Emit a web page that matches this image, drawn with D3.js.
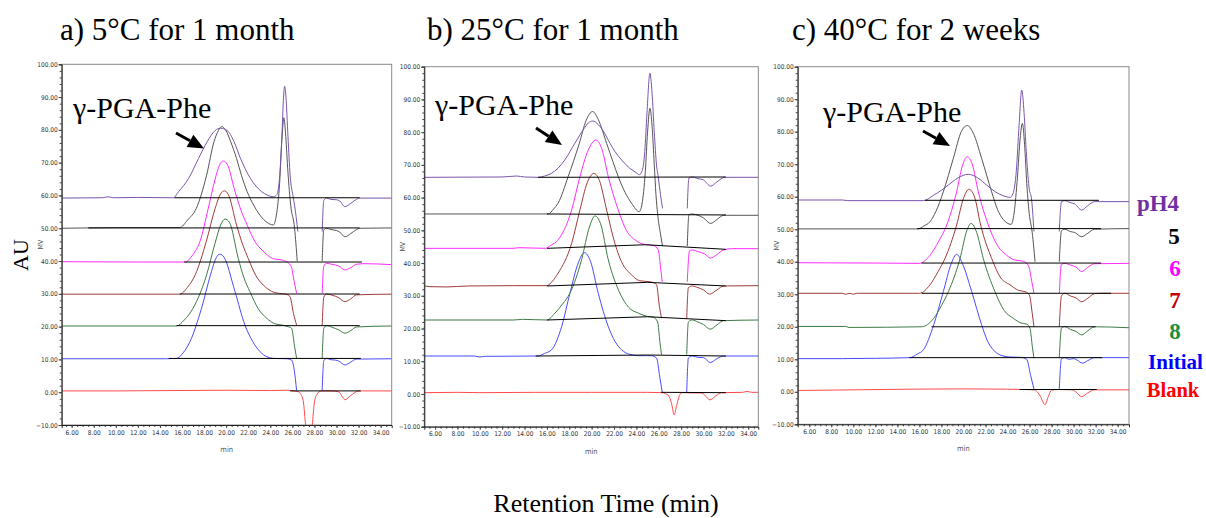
<!DOCTYPE html>
<html><head><meta charset="utf-8">
<script src="https://cdn.jsdelivr.net/npm/d3@7"></script>
<style>body{margin:0;background:#fff}svg{display:block}
.serif{font-family:"Liberation Serif","Times New Roman","DejaVu Serif",serif}
.tick text{font-family:"DejaVu Sans Condensed","DejaVu Sans",sans-serif}
</style>
</head><body><svg id="c" width="1206" height="518"></svg>
<script>
// ---------------- DATA ----------------
const panelTitles = ["a) 5°C for 1 month", "b) 25°C for 1 month", "c) 40°C for 2 weeks"];
const peakLabel = "γ-PGA-Phe";
const seriesNames = ["pH4", "5", "6", "7", "8", "Initial", "Blank"];
const xTickValues = [6, 8, 10, 12, 14, 16, 18, 20, 22, 24, 26, 28, 30, 32, 34];
const yTickValues = [-10, 0, 10, 20, 30, 40, 50, 60, 70, 80, 90, 100];
const xAxisTitle = "Retention Time (min)";
const yAxisTitle = "AU";

// Panel a) 5°C, 1 month  — [time (min), signal (mV)], null = trace gap
const a_pH4 = [[5.1,59.2],[8.8,59.3],[9.3,59.6],[9.8,59.3],[12,59.4],[15.2,59.3],[15.7,61.2],[16.6,65.2],[17.5,71.3],[18.3,76.5],[19.0,79.8],[19.5,80.5],[20.1,79.8],[20.7,76.5],[21.3,71.3],[22.2,65.2],[23.2,61.2],[23.8,60.0],[24.3,59.6],[24.6,60.3],[24.85,66],[25.05,78],[25.2,90],[25.3,93.3],[25.42,90],[25.6,78],[25.8,66],[26.05,60],[26.2,57],[26.5,49],null,[28.7,49],[28.85,58.5],[29.1,59.2],[29.5,58.8],[30.0,58.7],[30.3,58.3],[30.75,56.6],[31.3,57.6],[31.7,58.6],[32.1,59.2],[35,59.2]];
const a_5 = [[5.1,50],[7.5,50.1],[10,50.2],[15.8,50.2],[16.5,52.5],[17.3,56.1],[18.23,66.2],[18.9,76.4],[19.3,79.8],[19.6,81],[19.95,80],[20.4,76.5],[20.94,71.3],[21.4,66],[21.9,61.2],[22.5,57],[23.06,54],[23.7,51.8],[24.27,51],[24.55,54],[24.85,64],[25.05,77],[25.23,83.7],[25.4,78],[25.6,67],[25.85,57],[26.2,50],[26.44,40],null,[28.7,40],[28.85,49.5],[29.1,50],[29.5,49.6],[30.0,49.3],[30.3,48.8],[30.76,47.4],[31.3,48.4],[31.8,49.6],[32.1,50],[35,50.1]];
const a_6 = [[5.1,39.8],[12,39.7],[16.26,39.7],[17.0,42],[17.62,45.9],[18.38,56.1],[19.0,65],[19.4,69.3],[19.74,70.5],[20.1,69.5],[20.8,61.2],[21.4,55],[21.9,51],[22.6,46],[23.36,43],[24.2,40.8],[25.2,40.2],[25.6,39.5],[25.9,38.3],[26.15,34],[26.38,30.2],null,[28.7,30.2],[28.85,38.5],[29.1,39.3],[29.6,39],[30.2,38.5],[30.76,37.3],[31.3,38],[31.8,39],[32.5,39.2],[35,38.9]];
const a_7 = [[5.1,29.9],[15.8,29.9],[16.5,32],[17.2,35.8],[18.2,46],[19.0,56],[19.5,60.5],[19.83,61.4],[20.2,60.3],[20.94,51],[21.5,45],[22.0,40.8],[22.7,35.5],[23.36,32.7],[24.1,30.8],[24.87,30.1],[25.4,29.9],[25.78,29.2],[26.1,24],[26.38,20.5],null,[28.7,20.5],[28.85,29],[29.1,29.9],[29.6,29.6],[30.2,28.8],[30.76,27.6],[31.3,28.5],[31.8,29.7],[35,29.9]];
const a_8 = [[5.1,20.2],[15.5,20.2],[16.2,22],[17.0,25.6],[18.23,35.8],[19.0,45.5],[19.5,51],[19.89,52.8],[20.3,51.8],[21.1,40.8],[21.6,35],[22.15,30.7],[22.9,25.5],[23.66,22.6],[24.4,20.9],[25.2,20.4],[25.6,20.0],[25.93,19.5],[26.2,14],[26.38,10.4],null,[28.7,10.4],[28.85,19.5],[29.1,20.3],[29.6,19.8],[30.2,19],[30.76,18],[31.3,18.8],[31.8,19.9],[35,20.2]];
const a_initial = [[5.1,10.2],[14.5,10.2],[15.5,10.3],[16.1,12],[16.72,15.4],[17.77,25.6],[18.6,36],[19.1,41],[19.43,42.1],[19.8,41.2],[20.8,30.7],[21.7,20.5],[22.4,15.5],[23.06,12.4],[23.7,10.8],[24.27,10.3],[25.5,10.2],[25.93,9.8],[26.23,5.3],[26.38,0.6],null,[28.7,0.6],[28.85,9.6],[29.1,10.3],[29.5,9.9],[29.9,9.8],[30.2,9.5],[30.76,8.3],[31.3,9.2],[31.8,10.1],[35,10.2]];
const a_blank = [[5.1,0.4],[10,0.4],[15,0.5],[20,0.6],[24,0.5],[25.5,0.6],[26.1,0.4],[26.5,0.2],[26.8,-0.8],[27.0,-3],[27.2,-10],[27.5,-15],[27.8,-10],[28.0,-3],[28.2,-0.8],[28.6,0.4],[29.5,0.4],[30.2,0.1],[30.76,-2.3],[31.3,-1],[31.9,0.3],[32.2,0.4],[35,0.4]];
const a_baselines = [[[15.3,59.3],[32.1,59.3]],[[7.5,50.1],[32.1,50.1]],[[16.2,39.7],[32.3,39.7]],[[15.8,29.95],[32.1,29.95]],[[15.5,20.3],[32.1,20.3]],[[14.8,10.3],[32.2,10.3]],[[25.8,0.4],[32.2,0.4]]];

// Panel b) 25°C, 1 month
const b_pH4 = [[5.04,66.2],[12,66.3],[13.3,66.6],[14,66.3],[15.2,66.2],[15.8,66.6],[16.4,67.4],[17.0,69],[17.6,71.5],[18.5,76.6],[19.3,81],[19.7,82.8],[20.09,83.4],[20.6,82.3],[21.1,80],[21.64,76.6],[22.1,74],[22.68,71.5],[23.4,69],[24.0,67.6],[24.26,67.0],[24.5,68],[24.75,74],[24.95,86],[25.21,98],[25.4,92],[25.6,80],[25.8,70],[25.96,66.2],[26.15,61],[26.34,56.7],null,[28.55,56.7],[28.7,66],[29.0,66.3],[29.5,65.8],[30.0,65.4],[30.63,63.5],[31.2,64.8],[31.9,66.2],[34.9,66.2]];
const b_5 = [[5.04,55],[16.1,55],[16.6,56.5],[17.0,58.3],[17.9,66.4],[18.9,76.6],[19.5,83.5],[20.09,86.3],[20.6,83.8],[21.34,76.6],[21.9,71],[22.38,66.4],[23.0,61.5],[23.57,58.3],[24.26,55.7],[24.5,58],[24.8,68],[25.0,80],[25.21,87.3],[25.4,82],[25.6,70],[25.75,61],[25.9,55],[26.15,49],[26.34,45.2],null,[28.55,45.2],[28.7,54.8],[29.0,55],[29.5,54.6],[30.0,53.8],[30.63,52.1],[31.2,53.3],[31.8,54.6],[32.2,54.6],[34.9,54.6]];
const b_6 = [[5.04,44.5],[13.0,44.5],[13.5,44.7],[15.83,44.5],[16.4,45.5],[17.0,47.1],[18.21,56.2],[18.95,66.4],[19.7,74.5],[20.38,77.6],[20.9,75],[21.49,66.4],[22.38,56.2],[23.1,50],[23.87,47.1],[24.6,45.8],[25.5,45.4],[25.96,44],[26.15,39],[26.31,34.3],null,[28.55,34.3],[28.75,43.8],[29.0,44],[29.6,43.4],[30.1,42.8],[30.63,41.5],[31.2,42.6],[31.8,44],[32.5,44.4],[34.9,44.4]];
const b_7 = [[5.04,33.1],[5.5,32.8],[7,32.7],[9,33],[13,33.1],[16.0,33.1],[16.5,34.5],[17.0,36.9],[18.21,46],[18.95,56.2],[19.6,64.5],[20.2,67.4],[20.7,65.2],[21.34,56.2],[22.08,46],[22.8,39.5],[23.42,36.9],[24.3,34.6],[25.36,34.2],[25.8,33.4],[26.05,27],[26.25,23.1],null,[28.5,23.1],[28.65,32.5],[29.0,33],[29.5,32.5],[30.0,31.8],[30.55,30.5],[31.2,31.8],[31.8,33],[34.9,33.1]];
const b_8 = [[5.04,22.6],[13,22.6],[13.8,22.8],[16.0,22.6],[16.72,24.7],[17.4,27.5],[18.06,30.8],[19.1,41],[19.8,51],[20.3,54.4],[20.8,52],[21.49,41],[22.53,30.8],[23.3,26.5],[24.17,24.7],[25.0,23.7],[25.5,23.5],[25.9,22],[26.1,16],[26.25,12],null,[28.5,12],[28.65,22],[29.0,22.6],[29.5,22],[30.0,21.2],[30.6,19.8],[31.2,21.1],[31.8,22.4],[34.9,22.6]];
const b_initial = [[5.04,11.6],[9.5,11.6],[10,11.3],[10.5,11.5],[15.2,11.6],[15.8,12.4],[16.42,13.5],[17.32,20.6],[18.06,30.8],[18.8,40],[19.34,43.2],[19.9,40.5],[20.59,30.8],[21.49,20.6],[22.1,16],[22.68,13.5],[23.4,12.1],[24.17,11.7],[25.3,11.7],[25.8,11.0],[26.1,5],[26.31,0.6],null,[28.5,0.6],[28.65,11],[29.0,11.6],[29.5,11.2],[30.0,11.1],[30.6,9.6],[31.2,10.8],[31.8,11.6],[34.9,11.6]];
const b_blank = [[5.04,0.4],[8,0.5],[10,0.4],[15,0.5],[20,0.5],[25,0.5],[26.3,0.4],[26.6,0.1],[26.9,-0.6],[27.15,-3],[27.38,-6.4],[27.6,-3.5],[27.85,-0.5],[28.1,0.4],[29.8,0.3],[30.1,-0.3],[30.57,-1.8],[31.1,-0.6],[31.6,0.4],[33.5,0.5],[33.9,0.8],[34.3,0.5],[34.9,0.5]];
const b_baselines = [[[15.2,66.2],[32,66.3]],[[16,55],[32,54.7]],[[16,44.5],[24.8,45.6],[32,44.2]],[[16,33.0],[25,34.1],[32,33]],[[16,22.6],[25,23.6],[32,22.4]],[[15,11.6],[25,11.9],[32,11.6]],[[26.2,0.5],[32,0.4]]];

// Panel c) 40°C, 2 weeks
const c_pH4 = [[4.95,59.0],[9,59.0],[9.5,58.8],[16.36,58.8],[17.3,60.5],[18.0,62],[18.63,63.6],[19.5,65.8],[20.44,66.9],[21.3,65.8],[22.1,63.6],[22.9,61.5],[23.62,60.3],[24.23,59.8],[24.5,61],[24.8,68],[25.05,82],[25.29,92.8],[25.5,86],[25.7,74],[25.95,63],[26.2,58.7],[26.4,49.3],null,[28.7,49.3],[28.9,58.5],[29.2,58.8],[29.7,58.2],[30.1,57.8],[30.73,55.9],[31.3,57.3],[31.9,58.5],[35.03,58.5]];
const c_5 = [[4.95,50.1],[15.9,50.1],[16.4,51],[16.96,52.3],[17.5,55.5],[18.17,61.5],[19.08,71.8],[19.8,80],[20.35,81.9],[20.9,79.5],[21.65,71.8],[22.56,61.5],[23.1,56],[23.62,53],[24.32,51.5],[24.6,55],[24.9,66],[25.15,78],[25.35,82.6],[25.55,76],[25.75,64],[26.0,54],[26.2,50.1],[26.5,40],null,[28.7,40],[28.9,49.5],[29.2,50],[29.7,49.3],[30.1,49.0],[30.73,47.7],[31.3,48.8],[31.9,50],[35.03,50.2]];
const c_6 = [[4.95,39.7],[12,39.6],[16.0,39.5],[16.96,42],[17.7,46],[18.48,51.3],[19.38,61.5],[19.9,69.5],[20.35,72.3],[20.8,70],[21.35,61.5],[22.26,51.3],[23.0,45.5],[23.92,42],[24.7,40.5],[25.4,40.2],[25.89,38.9],[26.2,34],[26.4,30.3],null,[28.7,30.3],[28.9,39.2],[29.2,39.5],[29.7,39.0],[30.2,38.4],[30.73,37.0],[31.3,38.3],[31.9,39.4],[35.03,39.5]];
const c_7 = [[4.95,30.3],[9,30.3],[9.3,30.0],[9.7,30.3],[10,30.0],[10.3,30.3],[16.0,30.3],[16.96,32.9],[17.7,37],[18.32,41],[19.38,51.3],[20.0,59.5],[20.5,62.3],[21.0,60],[21.56,51.3],[22.56,41],[23.4,35],[24.23,32.9],[25.0,31.2],[25.6,30.8],[25.98,29.8],[26.25,24],[26.4,20],null,[28.7,20],[28.9,29.5],[29.2,30.3],[29.7,29.5],[30.2,28.9],[30.73,27.7],[31.3,28.8],[31.9,30.2],[32.5,30.3],[35.03,30.3]];
const c_8 = [[4.95,20.1],[9.3,20.1],[9.6,19.8],[16.2,20.0],[17.3,22.6],[18.0,26.5],[18.63,30.8],[19.69,41],[20.3,49.5],[20.69,51.8],[21.2,49],[21.8,41],[22.86,30.8],[23.7,25],[24.53,22.6],[25.2,21.2],[25.74,20.8],[26.04,19.5],[26.25,14],[26.4,10.3],null,[28.7,10.3],[28.9,19.6],[29.2,20.1],[29.7,19.2],[30.2,18.6],[30.73,17.5],[31.3,18.8],[31.9,20],[35.03,19.7]];
const c_initial = [[4.95,10.2],[9,10.2],[12,10.3],[15.15,10.5],[15.8,11.6],[16.36,12.9],[17.3,20.6],[18.17,30.8],[18.9,39.5],[19.38,42.3],[19.9,39.5],[20.75,30.8],[21.65,20.6],[22.2,15.5],[22.71,12.9],[23.5,11.1],[24.23,10.7],[25.2,10.6],[25.74,10.0],[26.1,5],[26.4,0.9],null,[28.7,0.9],[28.9,10.2],[29.2,10.5],[29.6,10.0],[30.0,10.2],[30.3,9.8],[30.8,8.8],[31.3,9.6],[31.9,10.5],[35.03,10.5]];
const c_blank = [[4.95,0.4],[10,0.6],[15,0.8],[20,0.9],[24,0.8],[25.5,0.7],[26.4,0.6],[26.7,0.0],[27.0,-1.5],[27.4,-4.0],[27.7,-1.5],[28.0,0.5],[28.7,0.7],[29.8,0.6],[30.2,0],[30.73,-1.5],[31.3,-0.3],[31.9,0.6],[35.03,0.6]];
const c_baselines = [[[16.5,58.9],[32.3,58.9]],[[15.8,50.2],[32.5,50.2]],[[16.2,39.6],[32.5,39.6]],[[16.2,30.3],[33.4,30.3]],[[17.1,20.0],[32.0,20.0]],[[15.1,10.5],[32.6,10.5]],[[25.1,0.7],[32.1,0.7]]];

const panelTraces = [
  [a_pH4, a_5, a_6, a_7, a_8, a_initial, a_blank],
  [b_pH4, b_5, b_6, b_7, b_8, b_initial, b_blank],
  [c_pH4, c_5, c_6, c_7, c_8, c_initial, c_blank]
];
const panelBaselines = [a_baselines, b_baselines, c_baselines];

// ---------------- STYLE / LAYOUT ----------------
const traceColors = ["#7a55ad", "#555555", "#ff2bff", "#a03a3a", "#3f7a45", "#4a4aff", "#ff4a4a"];
const legendColors = ["#7030a0", "#000000", "#ff00ff", "#c00000", "#1f8f3f", "#0000ff", "#ff0000"];
const layout = [
  {l: 61.7, t: 64.3, r: 391.7, b: 425, x0: 5.1, x1: 35, title: [60, 40], label: [73, 118], arrow: [[176, 133], [204, 148.5]]},
  {l: 424.3, t: 66.7, r: 758.3, b: 426.7, x0: 5.04, x1: 34.9, title: [427, 40], label: [435, 115], arrow: [[536, 128], [562, 145]]},
  {l: 797.7, t: 66.7, r: 1129, b: 424.3, x0: 4.95, x1: 35.03, title: [792, 40], label: [823, 122], arrow: [[923, 131], [950, 146]]}
];
const legendPos = [[1158, 211, 23], [1174, 244, 23], [1175, 276, 23], [1175, 308, 23], [1175, 339, 23], [1175.5, 369, 21], [1173, 397, 20.5]];

const svg = d3.select("#c");
svg.append("rect").attr("width", 1206).attr("height", 518).attr("fill", "#fff");
const tickFont = "'DejaVu Sans Condensed','DejaVu Sans',sans-serif";

layout.forEach((L, p) => {
  const g = svg.append("g");
  const x = d3.scaleLinear().domain([L.x0, L.x1]).range([L.l, L.r]);
  const y = d3.scaleLinear().domain([-10, 100]).range([L.b, L.t]);
  const clipId = "clip" + p;
  svg.append("clipPath").attr("id", clipId).append("rect")
    .attr("x", L.l).attr("y", L.t).attr("width", L.r - L.l).attr("height", L.b - L.t);

  g.append("rect").attr("x", L.l).attr("y", L.t).attr("width", L.r - L.l).attr("height", L.b - L.t)
    .attr("fill", "none").attr("stroke", "#8a8a8a").attr("stroke-width", 1);

  const line = d3.line().defined(d => d !== null).x(d => x(d[0])).y(d => y(d[1])).curve(d3.curveMonotoneX);
  const plot = g.append("g").attr("clip-path", `url(#${clipId})`);
  const traces = panelTraces[p];
  for (let i = traces.length - 1; i >= 0; i--) {
    plot.append("path").attr("d", line(traces[i])).attr("fill", "none")
      .attr("stroke", traceColors[i]).attr("stroke-width", 1);
  }
  const bl = d3.line().x(d => x(d[0])).y(d => y(d[1]));
  panelBaselines[p].forEach(seg => {
    plot.append("path").attr("d", bl(seg)).attr("fill", "none").attr("stroke", "#000").attr("stroke-width", 1);
  });

  const yMinor = g.append("g").attr("transform", `translate(${L.l},0)`)
    .call(d3.axisLeft(y).tickValues(d3.range(-10, 100.1, 2)).tickSize(2).tickFormat(""));
  yMinor.select(".domain").remove();
  const yAx = g.append("g").attr("transform", `translate(${L.l},0)`)
    .call(d3.axisLeft(y).tickValues(yTickValues).tickSize(3).tickPadding(1).tickFormat(d3.format(".2f")));
  const xMinor = g.append("g").attr("transform", `translate(0,${L.b})`)
    .call(d3.axisBottom(x).tickValues(d3.range(5.5, 34.6, 0.5)).tickSize(2).tickFormat(""));
  xMinor.select(".domain").remove();
  const xAx = g.append("g").attr("transform", `translate(0,${L.b})`)
    .call(d3.axisBottom(x).tickValues(xTickValues).tickSize(3).tickPadding(2).tickFormat(d3.format(".2f")));
  [yAx, xAx].forEach(a => {
    a.select(".domain").attr("stroke", "#222");
    a.selectAll("text").attr("font-size", 6.5).attr("fill", "#333");
  });
  g.selectAll(".tick line").attr("stroke", "#444");

  g.append("text").attr("transform", `translate(${L.l - 19},${(L.t + L.b) / 2}) rotate(-90)`)
    .attr("text-anchor", "middle").attr("font-family", tickFont).attr("font-size", 7).attr("fill", "#555").text("MV");
  g.append("text").attr("x", (L.l + L.r) / 2).attr("y", L.b + 27).attr("text-anchor", "middle")
    .attr("font-family", tickFont).attr("font-size", 7.5).attr("fill", "#555").text("min");

  svg.append("text").attr("class", "serif").attr("x", L.title[0]).attr("y", L.title[1])
    .attr("font-size", 31).attr("fill", "#000").text(panelTitles[p]);
  svg.append("text").attr("class", "serif").attr("x", L.label[0]).attr("y", L.label[1])
    .attr("font-size", 30).attr("fill", "#000").text(peakLabel);
  const [[ax0, ay0], [ax1, ay1]] = L.arrow;
  const ang = Math.atan2(ay1 - ay0, ax1 - ax0);
  const hl = 16, hw = 7;
  const bx = ax1 - hl * Math.cos(ang), by = ay1 - hl * Math.sin(ang);
  svg.append("line").attr("x1", ax0).attr("y1", ay0).attr("x2", bx).attr("y2", by)
    .attr("stroke", "#000").attr("stroke-width", 3);
  svg.append("path").attr("d", `M${ax1},${ay1}L${bx - hw * Math.sin(ang)},${by + hw * Math.cos(ang)}L${bx + hw * Math.sin(ang)},${by - hw * Math.cos(ang)}Z`)
    .attr("fill", "#000");
});

seriesNames.forEach((n, i) => {
  svg.append("text").attr("class", "serif").attr("x", legendPos[i][0]).attr("y", legendPos[i][1]).attr("text-anchor", "middle")
    .attr("font-weight", "bold").attr("font-size", legendPos[i][2])
    .attr("fill", legendColors[i]).text(n);
});

svg.append("text").attr("class", "serif").attr("x", 606).attr("y", 512).attr("text-anchor", "middle")
  .attr("font-size", 26).attr("fill", "#000").text(xAxisTitle);
svg.append("text").attr("class", "serif").attr("transform", "translate(28,255) rotate(-90)").attr("text-anchor", "middle")
  .attr("font-size", 22).attr("fill", "#000").text(yAxisTitle);
</script></body></html>
